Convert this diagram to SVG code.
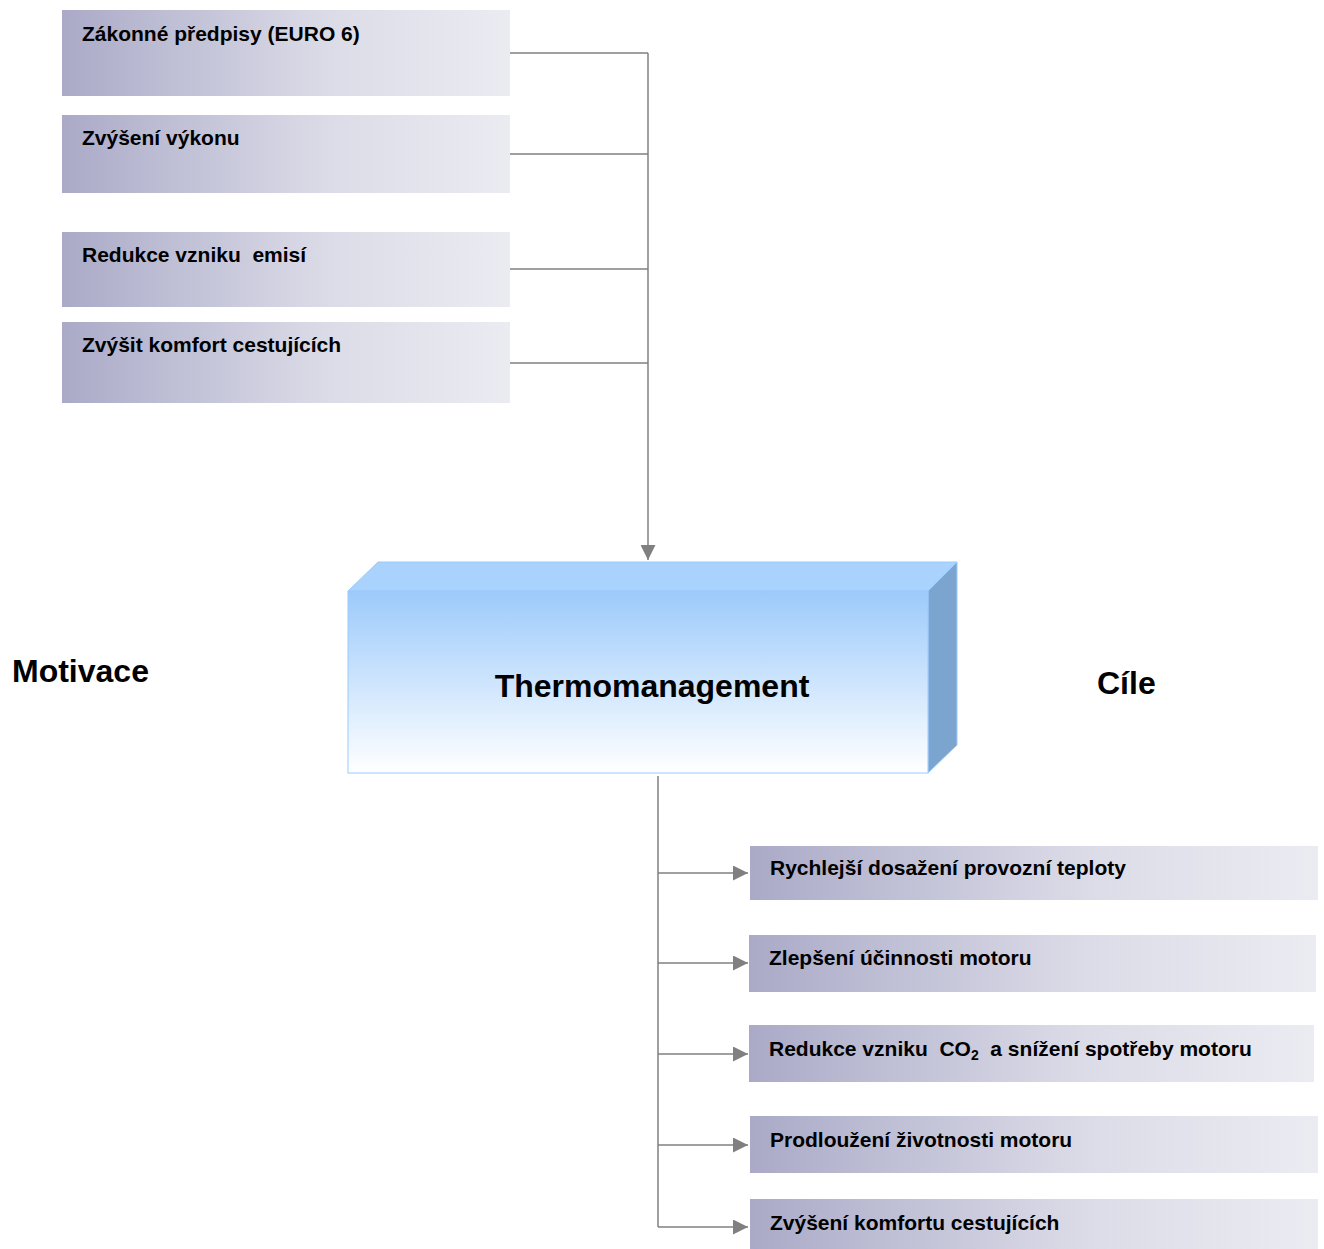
<svg xmlns="http://www.w3.org/2000/svg" width="1324" height="1249" viewBox="0 0 1324 1249">
<defs>
<linearGradient id="gBox" x1="0" y1="0" x2="1" y2="0">
<stop offset="0" stop-color="#aaaac8"/>
<stop offset="0.6" stop-color="#dcdce8"/>
<stop offset="1" stop-color="#ebebf2"/>
</linearGradient>
<linearGradient id="gFront" x1="0" y1="0" x2="0" y2="1">
<stop offset="0" stop-color="#9ccafb"/>
<stop offset="1" stop-color="#ffffff"/>
</linearGradient>
<marker id="arrB" viewBox="0 0 10 10" refX="10" refY="5" markerWidth="15" markerHeight="15" markerUnits="userSpaceOnUse" orient="auto">
<path d="M0,0 L10,5 L0,10 z" fill="#808080"/>
</marker>
</defs>
<style>
.box{fill:url(#gBox);}
.t{font-family:"Liberation Sans",Arial,sans-serif;font-weight:bold;font-size:21px;fill:#000;white-space:pre;}
.big{font-family:"Liberation Sans",Arial,sans-serif;font-weight:bold;font-size:32px;fill:#000;}
.c{fill:none;stroke:#808080;stroke-width:1.5;}
</style>
<rect width="1324" height="1249" fill="#ffffff"/>
<g id="connectors">
<path class="c" d="M510,53 H648 M510,154 H648 M510,269 H648 M510,363 H648"/>
<path class="c" d="M648,53 V560" marker-end="url(#arrB)"/>
<path class="c" d="M658,776 V1227"/>
<path class="c" d="M658,873 H748" marker-end="url(#arrB)"/>
<path class="c" d="M658,963 H748" marker-end="url(#arrB)"/>
<path class="c" d="M658,1054 H748" marker-end="url(#arrB)"/>
<path class="c" d="M658,1145 H748" marker-end="url(#arrB)"/>
<path class="c" d="M658,1227 H748" marker-end="url(#arrB)"/>
</g>
<g id="m1"><rect class="box" x="62" y="10" width="448" height="86"/><text class="t" x="82" y="41">Zákonné předpisy (EURO 6)</text></g>
<g id="m2"><rect class="box" x="62" y="115" width="448" height="78"/><text class="t" x="82" y="145">Zvýšení výkonu</text></g>
<g id="m3"><rect class="box" x="62" y="232" width="448" height="75"/><text class="t" x="82" y="262">Redukce vzniku  emisí</text></g>
<g id="m4"><rect class="box" x="62" y="322" width="448" height="81"/><text class="t" x="82" y="352">Zvýšit komfort cestujících</text></g>
<g id="thermo">
<polygon points="348,591 378,562 957,562 928,591" fill="#a9d3fd" stroke="#9ccafb" stroke-width="1"/>
<polygon points="928,591 957,562 957,745 928,773" fill="#7ba4cf" stroke="#9ccafb" stroke-width="1"/>
<rect x="348" y="591" width="580" height="182" fill="url(#gFront)" stroke="#9ccafb" stroke-width="1"/>
<text class="big" x="652" y="697" text-anchor="middle">Thermomanagement</text>
</g>
<g id="motivace"><text class="big" x="12" y="682">Motivace</text></g>
<g id="cile"><text class="big" x="1097" y="694">Cíle</text></g>
<g id="c1"><rect class="box" x="750" y="846" width="568" height="54"/><text class="t" x="770" y="875">Rychlejší dosažení provozní teploty</text></g>
<g id="c2"><rect class="box" x="749" y="935" width="567" height="57"/><text class="t" x="769" y="965">Zlepšení účinnosti motoru</text></g>
<g id="c3"><rect class="box" x="749" y="1025" width="565" height="57"/><text class="t" x="769" y="1056">Redukce vzniku  CO<tspan font-size="14" dy="4">2</tspan><tspan dy="-4">  a snížení spotřeby motoru</tspan></text></g>
<g id="c4"><rect class="box" x="750" y="1116" width="568" height="57"/><text class="t" x="770" y="1147">Prodloužení životnosti motoru</text></g>
<g id="c5"><rect class="box" x="750" y="1199" width="568" height="50"/><text class="t" x="770" y="1230">Zvýšení komfortu cestujících</text></g>
</svg>
